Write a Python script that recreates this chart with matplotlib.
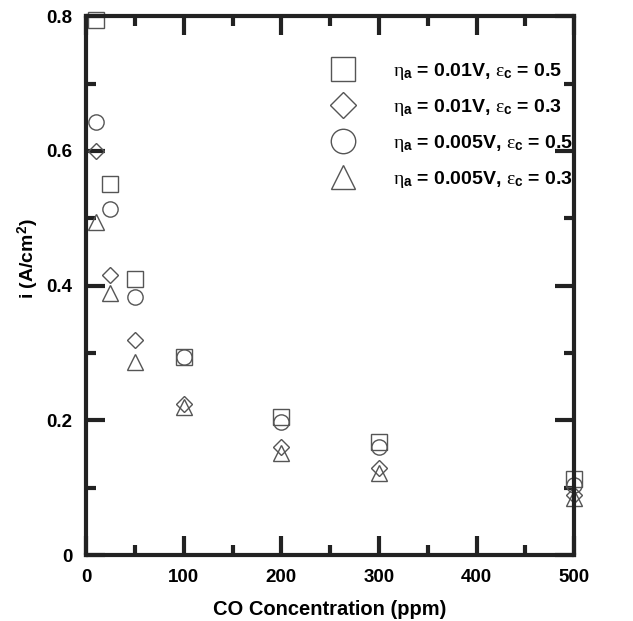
import numpy as np
import matplotlib
matplotlib.use("Agg")
import matplotlib.pyplot as plt
from matplotlib.ticker import MultipleLocator

plt.rcParams['font.family'] = ['Liberation Sans', 'DejaVu Sans']
plt.rcParams['mathtext.fontset'] = 'custom'
plt.rcParams['mathtext.rm'] = 'Liberation Sans'
plt.rcParams['mathtext.it'] = 'Liberation Serif'
plt.rcParams['mathtext.bf'] = 'Liberation Sans:bold'

# CO concentration (ppm)
co_ppm = [10, 25, 50, 100, 200, 300, 500]

# current density (A/cm2) for each case
i_001_05 = [0.795, 0.551, 0.410, 0.294, 0.205, 0.168, 0.113]
i_001_03 = [0.600, 0.416, 0.319, 0.225, 0.160, 0.129, 0.089]
i_0005_05 = [0.643, 0.514, 0.383, 0.294, 0.198, 0.160, 0.104]
i_0005_03 = [0.495, 0.389, 0.286, 0.220, 0.151, 0.122, 0.085]

labels = [
    r'$\eta_\mathbf{a}$ = 0.01V, $\varepsilon_\mathbf{c}$ = 0.5',
    r'$\eta_\mathbf{a}$ = 0.01V, $\varepsilon_\mathbf{c}$ = 0.3',
    r'$\eta_\mathbf{a}$ = 0.005V, $\varepsilon_\mathbf{c}$ = 0.5',
    r'$\eta_\mathbf{a}$ = 0.005V, $\varepsilon_\mathbf{c}$ = 0.3',
]
series = [i_001_05, i_001_03, i_0005_05, i_0005_03]
markers = ['s', 'D', 'o', '^']
sizes = [11, 8, 11, 11]

fig = plt.figure(figsize=(6.33, 6.21), dpi=100)
ax = fig.add_axes([0.136, 0.106, 0.771, 0.868])

handles = []
for ys, m, ms, lab in zip(series, markers, sizes, labels):
    h, = ax.plot(co_ppm, ys, linestyle='none', marker=m, markersize=ms,
                 markerfacecolor='none', markeredgecolor='#555555',
                 markeredgewidth=1.0, clip_on=False, label=lab)
    handles.append(h)

ax.set_xlim(0, 500)
ax.set_ylim(0, 0.8)
ax.xaxis.set_major_locator(MultipleLocator(100))
ax.xaxis.set_minor_locator(MultipleLocator(50))
ax.yaxis.set_minor_locator(MultipleLocator(0.1))
ax.set_yticks([0, 0.2, 0.4, 0.6, 0.8])
ax.set_yticklabels(['0', '0.2', '0.4', '0.6', '0.8'])

for s in ax.spines.values():
    s.set_linewidth(3.0)
    s.set_color('#222222')
ax.tick_params(which='both', direction='in', top=True, right=True,
               width=3.0, color='#222222')
ax.tick_params(which='major', length=14, labelsize=13.5, pad=10)
ax.tick_params(which='minor', length=7)
for lab in ax.get_xticklabels() + ax.get_yticklabels():
    lab.set_fontweight('bold')

ax.set_xlabel('CO Concentration (ppm)', fontsize=14.5, fontweight='bold', labelpad=10)
ax.set_ylabel(r'i (A/cm$^\mathbf{2}$)', fontsize=14, fontweight='bold')
ax.yaxis.set_label_coords(-0.092, 0.55)

leg = ax.legend(handles=handles, loc='upper left', bbox_to_anchor=(0.45, 0.95),
                frameon=False, markerscale=1.6, handletextpad=1.6,
                labelspacing=0.78, prop={'weight': 'bold', 'size': 14})

fig.savefig('out.png', dpi=100)
